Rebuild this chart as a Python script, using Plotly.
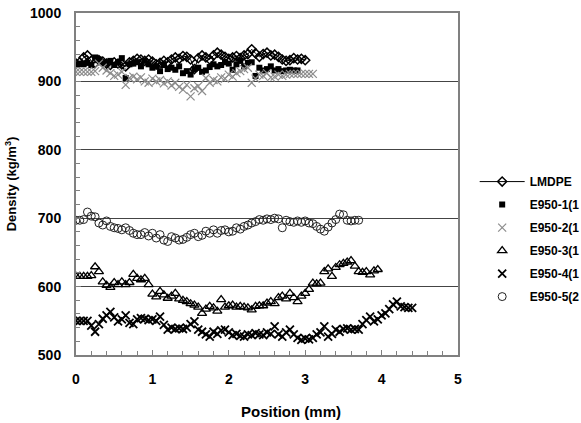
import plotly.graph_objects as go

# Position grid (mm) (sampling ~0.05 mm)
POSITION = [0.00, 0.05, 0.10, 0.15, 0.20, 0.25, 0.30, 0.35, 0.40, 0.45,
            0.50, 0.55, 0.60, 0.65, 0.70, 0.75, 0.80, 0.85, 0.90, 0.95,
            1.00, 1.05, 1.10, 1.15, 1.20, 1.25, 1.30, 1.35, 1.40, 1.45,
            1.50, 1.55, 1.60, 1.65, 1.70, 1.75, 1.80, 1.85, 1.90, 1.95,
            2.00, 2.05, 2.10, 2.15, 2.20, 2.25, 2.30, 2.35, 2.40, 2.45,
            2.50, 2.55, 2.60, 2.65, 2.70, 2.75, 2.80, 2.85, 2.90, 2.95,
            3.00, 3.05, 3.10, 3.15, 3.20, 3.25, 3.30, 3.35, 3.40, 3.45,
            3.50, 3.55, 3.60, 3.65, 3.70, 3.75, 3.80, 3.85, 3.90, 3.95,
            4.00, 4.05, 4.10, 4.15, 4.20, 4.25, 4.30, 4.35, 4.40]

SERIES_NAMES = ["LMDPE", "E950-1(1", "E950-2(1", "E950-3(1", "E950-4(1", "E950-5(2"]

LMDPE = [926, 928, 935, 938, 930, 927, 931, 929, 926, 924,
         928, 926, 925, 922, 928, 930, 933, 932, 930, 932,
         929, 925, 927, 930, 928, 932, 935, 933, 937, 936,
         932, 918, 934, 938, 935, 932, 938, 942, 939, 936,
         933, 935, 937, 934, 938, 940, 947, 941, 936, 940,
         942, 938, 939, 936, 932, 930, 931, 934, 932, 933, 931]

E950_1 = [924, 926, 925, 927, 924, 935, 932, 928, 926, 930,
          924, 928, 934, 905, 925, 926, 928, 922, 930, 925,
          920, 922, 915, 924, 918, 920, 917, 922, 912, 915,
          910, 918, 920, 914, 916, 921, 925, 922, 924, 928,
          926, 917, 925, 930, 922, 927, 928, 908, 920, 916,
          918, 922, 916, 918, 915, 916, 917, 916, 916]

E950_2 = [914, 914, 914, 914, 914, 915, 926, 920, 916, 912,
          908, 910, 914, 895, 905, 907, 903, 906, 900, 898,
          904, 900, 902, 897, 900, 894, 898, 892, 888, 895,
          878, 890, 893, 886, 905, 898, 902, 900, 906, 904,
          910, 907, 912, 915, 918, 920, 898, 904, 910, 908,
          912, 906, 907, 910, 908, 910, 911, 911, 911, 911,
          911, 911, 911]

E950_3 = [615, 615, 615, 615, 616, 629, 622, 607, 602, 599,
          606, 603, 607, 603, 606, 618, 612, 610, 612, 603,
          589, 585, 593, 588, 583, 586, 590, 582, 580, 578,
          575, 573, 570, 561, 567, 571, 569, 564, 581, 570,
          572, 573, 570, 571, 570, 569, 566, 571, 572, 572,
          576, 578, 575, 584, 586, 582, 590, 584, 578, 586,
          590, 596, 605, 604, 605, 622, 626, 615, 628, 632,
          634, 636, 638, 630, 622, 621, 622, 617, 623, 625]

E950_4 = [550, 550, 550, 550, 543, 534, 545, 553, 558, 563,
          555, 549, 552, 558, 547, 545, 552, 554, 553, 551,
          552, 550, 556, 544, 537, 540, 538, 539, 538, 540,
          545, 549, 537, 534, 530, 527, 534, 531, 536, 537,
          533, 529, 531, 528, 527, 530, 529, 532, 530, 529,
          533, 531, 542, 530, 527, 533, 537, 530, 525, 522,
          524, 523, 525, 530, 533, 542, 527, 531, 537, 534,
          538, 539, 537, 538, 537, 545, 551, 556, 549, 552,
          558, 561, 567, 574, 578, 571, 570, 569, 569]

E950_5 = [697, 697, 698, 709, 703, 702, 693, 690, 696, 688,
          686, 685, 683, 686, 682, 678, 676, 676, 679, 674,
          678, 671, 676, 668, 666, 673, 671, 668, 669, 672,
          676, 678, 673, 675, 681, 678, 683, 678, 682, 683,
          680, 681, 686, 684, 688, 690, 693, 695, 698, 697,
          699, 698, 700, 699, 686, 697, 695, 694, 696, 694,
          696, 693, 692, 688, 684, 681, 687, 693, 698, 706,
          705, 697, 696, 697, 697]

FONT = "Liberation Sans, Arial, sans-serif"

fig = go.Figure()

styles = [
    dict(mode="lines+markers", line=dict(color="black", width=1),
         marker=dict(symbol="diamond-open", size=7, color="black", line=dict(width=1.5))),
    dict(mode="markers", marker=dict(symbol="square", size=6, color="black")),
    dict(mode="markers", marker=dict(symbol="x-thin", size=8, color="#8c8c8c",
                                     line=dict(width=1.2, color="#8c8c8c"))),
    dict(mode="markers", marker=dict(symbol="triangle-up-open", size=8, color="black",
                                     line=dict(width=1.3))),
    dict(mode="markers", marker=dict(symbol="x-thin", size=8, color="black",
                                     line=dict(width=1.8, color="black"))),
    dict(mode="markers", marker=dict(symbol="circle-open", size=8, color="#222222",
                                     line=dict(width=1))),
]
data = [LMDPE, E950_1, E950_2, E950_3, E950_4, E950_5]

for i, (name, ys, st) in enumerate(zip(SERIES_NAMES, data, styles)):
    fig.add_trace(go.Scatter(x=POSITION[:len(ys)], y=ys, name=name,
                             legendgroup=f"g{i}", **st))

fig.update_layout(
    width=581, height=423,
    margin=dict(l=76, r=123, t=13, b=68, autoexpand=False),
    paper_bgcolor="white", plot_bgcolor="white",
    font=dict(family=FONT, size=14, color="black"),
    showlegend=True,
    legend=dict(xref="container", yref="container", x=0.817, y=0.605,
                xanchor="left", yanchor="top", tracegroupgap=4, itemwidth=45,
                font=dict(family=FONT, size=12, color="black", weight="bold"),
                bgcolor="rgba(0,0,0,0)"),
)

fig.update_xaxes(
    range=[0, 5], dtick=1, tick0=0, showgrid=False, zeroline=False,
    showline=True, linecolor="#808080", linewidth=2, mirror=True,
    ticks="inside", ticklen=5, tickcolor="#808080", ticklabelstandoff=10,
    tickfont=dict(family=FONT, size=14, weight="bold"),
    minor=dict(dtick=0.2, ticks="inside", ticklen=4, tickcolor="#808080"),
)
fig.update_yaxes(
    range=[500, 1000], dtick=100, tick0=500, showgrid=True, gridcolor="#444444",
    gridwidth=1, zeroline=False,
    showline=True, linecolor="#808080", linewidth=2, mirror=True,
    ticks="inside", ticklen=5, tickcolor="#808080", ticklabelstandoff=10,
    tickfont=dict(family=FONT, size=14, weight="bold"),
    minor=dict(dtick=20, ticks="inside", ticklen=4, tickcolor="#808080", showgrid=False),
    title=dict(text="Density (kg/m<sup>3</sup>)", standoff=10,
               font=dict(family=FONT, size=13, weight="bold")),
)

fig.add_annotation(text="Position (mm)", xref="paper", yref="paper",
                   x=0.563, y=-0.165, xanchor="center", yanchor="middle",
                   showarrow=False, font=dict(family=FONT, size=15, weight="bold"))

fig.write_html("out.html")
